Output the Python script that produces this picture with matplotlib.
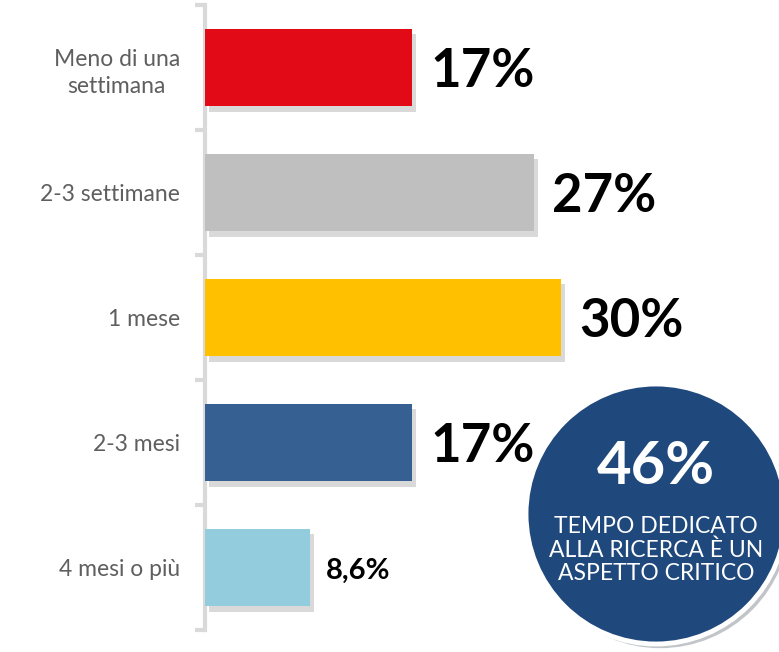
import matplotlib.pyplot as plt
import matplotlib.patheffects as pe
from matplotlib.patches import Circle

# data
categories = ['Meno di una\nsettimana', '2-3 settimane', '1 mese', '2-3 mesi', '4 mesi o più']
values = [17, 27, 29.2, 17, 8.6]
value_labels = ['17%', '27%', '30%', '17%', '8,6%']
colors = ['#E20A16', '#BFBFBF', '#FFC000', '#376092', '#93CDDD']
badge_value = '46%'
badge_text = 'TEMPO DEDICATO\nALLA RICERCA È UN\nASPETTO CRITICO'

W, H = 779, 652
fig = plt.figure(figsize=(W / 100, H / 100), dpi=100)
ax = fig.add_axes([205 / W, 22 / H, 1 - 205 / W, 625 / H])

ypos = list(range(len(categories)))
bars = ax.barh(ypos, values, height=0.62, color=colors, zorder=3)
for b in bars:
    b.set_path_effects([pe.SimplePatchShadow(offset=(3, -4), shadow_rgbFace='#000000', alpha=0.15), pe.Normal()])

ax.set_xlim(0, (W - 205) / 12.18)
ax.set_ylim(len(categories) - 0.5, -0.5)

# value labels
for i, (v, lab) in enumerate(zip(values, value_labels)):
    big = v > 10
    ax.text(v + (1.5 if big else 1.3), i + 0.03, lab, va='center', ha='left',
            fontsize=38 if big else 21, fontweight='bold', color='black', family='Lato')

# axis styling
for s in ['top', 'right', 'bottom']:
    ax.spines[s].set_visible(False)
ax.spines['left'].set_color('#D9D9D9')
ax.spines['left'].set_linewidth(3)
ax.set_xticks([])
ax.set_yticks(ypos)
ax.set_yticklabels(categories, fontsize=16.5, color='#5f5f5f', family='Lato')
ax.tick_params(axis='y', which='major', length=0, pad=18)
ax.set_yticks([i - 0.5 for i in range(len(categories) + 1)], minor=True)
ax.tick_params(axis='y', which='minor', length=7, width=3, color='#D9D9D9')
for t in ax.get_yticklabels():
    t.set_multialignment('center')
    t.set_linespacing(1.4)

# badge circle overlay
ov = fig.add_axes([0, 0, 1, 1], facecolor='none')
ov.set_xlim(0, W)
ov.set_ylim(H, 0)
ov.axis('off')
circ = Circle((656, 514), 130, facecolor='#1F497D', edgecolor='white', linewidth=3.5, zorder=5)
circ.set_path_effects([pe.SimplePatchShadow(offset=(3, -3), alpha=0.25), pe.Normal()])
ov.add_patch(circ)
ov.text(656, 467, badge_value, ha='center', va='center', color='white', fontsize=43,
        fontweight='bold', family='Lato', zorder=6)
ov.text(656, 550, badge_text, ha='center', va='center', color='white', fontsize=16.5,
        family='Lato', linespacing=1.15, zorder=6)

fig.savefig('out.png', dpi=100)
